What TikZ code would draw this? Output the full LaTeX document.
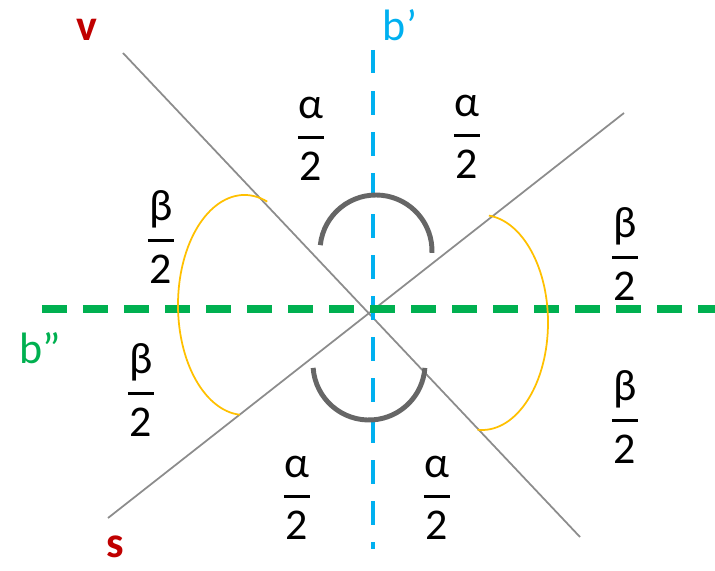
\documentclass[tikz,border=0pt]{standalone}
\usepackage{fontspec}
\setmainfont{Carlito}
\usepackage{tikz}
\usetikzlibrary{calc}
\definecolor{labelred}{HTML}{C00000}
\definecolor{bisblue}{HTML}{00B0F0}
\definecolor{bisgreen}{HTML}{00B050}
\definecolor{arcyellow}{HTML}{FFC000}
\definecolor{linegray}{HTML}{8C8C8C}
\definecolor{arcgray}{HTML}{666666}

% fraction "x over 2" as three lines of one node
\newcommand{\halfangle}[1]{#1\\[-17.2pt]\rule{0.6em}{1.7pt}\\[-5.3pt]2}

\begin{document}
\begin{tikzpicture}[
        halflabel/.style={align=center, inner sep=0pt, font=\fontsize{25}{29}\selectfont},
        letter/.style={inner sep=0pt, font=\fontsize{25}{29}\selectfont},
        sideline/.style={linegray, line width=1pt},
        bluebis/.style={bisblue, line width=2.8pt, dash pattern=on 0.47cm off 0.35cm},
        greenbis/.style={bisgreen, line width=4.5pt, dash pattern=on 0.5cm off 0.32cm},
        betaarc/.style={arcyellow, line width=1pt},
        alphaarc/.style={arcgray, line width=2.8pt}
    ]
    \useasboundingbox (-7.44,-5.2) rectangle (6.86,6.2);

    % ---- end points of the lines ----
    \coordinate (vtop) at (-4.98, 5.14);
    \coordinate (vbot) at (4.16, -4.54);
    \coordinate (sbot) at (-5.28, -4.16);
    \coordinate (stop) at (5.04, 3.94);
    \coordinate (btop) at (0.02, 5.2);
    \coordinate (bbot) at (0.02, -4.78);
    \coordinate (gleft) at (-6.6, 0.02);
    \coordinate (gright) at (6.86, 0.02);

    % ---- lines v and s ----
    \draw[sideline] (vtop) -- (vbot);
    \draw[sideline] (sbot) -- (stop);

    % ---- bisectors b' and b'' ----
    \draw[bluebis] (btop) -- (bbot);
    \draw[greenbis] (gleft) -- (gright);

    % ---- angle arcs ----
    \coordinate (ylc) at (-2.55, 0.1);
    \coordinate (yrc) at (2.2, -0.25);
    \draw[betaarc] (ylc) ++(70:1.33 and 2.2) arc[start angle=70, end angle=266, x radius=1.33, y radius=2.2];
    \draw[betaarc] (yrc) ++(84:1.32 and 2.15) arc[start angle=84, end angle=-94, x radius=1.32, y radius=2.15];
    \coordinate (gtc) at (0.08, 1.18);
    \coordinate (gbc) at (-0.06, -1.08);
    \draw[alphaarc] (gtc) ++(174:1.12) arc[start angle=174, end angle=-2, radius=1.12];
    \draw[alphaarc] (gbc) ++(184:1.12) arc[start angle=184, end angle=356, radius=1.12];

    % ---- names of the lines ----
    \node[letter, labelred, font=\fontsize{25}{29}\selectfont\bfseries] (vname) at (-5.7, 5.6) {v};
    \node[letter, labelred, font=\fontsize{25}{29}\selectfont\bfseries] (sname) at (-5.14, -4.74) {s};
    \node[letter, bisblue] (b1name) at (0.56, 5.7) {b’};
    \node[letter, bisgreen] (b2name) at (-6.64, -0.76) {b”};

    % ---- half angles ----
    \node[halflabel] (atl) at (-1.22, 3.42) {\halfangle{α}};
    \node[halflabel] (atr) at (1.9, 3.46) {\halfangle{α}};
    \node[halflabel] (abl) at (-1.5, -3.76) {\halfangle{α}};
    \node[halflabel] (abr) at (1.3, -3.76) {\halfangle{α}};
    \node[halflabel] (bul) at (-4.22, 1.46) {\halfangle{β}};
    \node[halflabel] (bll) at (-4.62, -1.6) {\halfangle{β}};
    \node[halflabel] (bur) at (5.06, 1.12) {\halfangle{β}};
    \node[halflabel] (blr) at (5.06, -2.14) {\halfangle{β}};

\end{tikzpicture}
\end{document}
